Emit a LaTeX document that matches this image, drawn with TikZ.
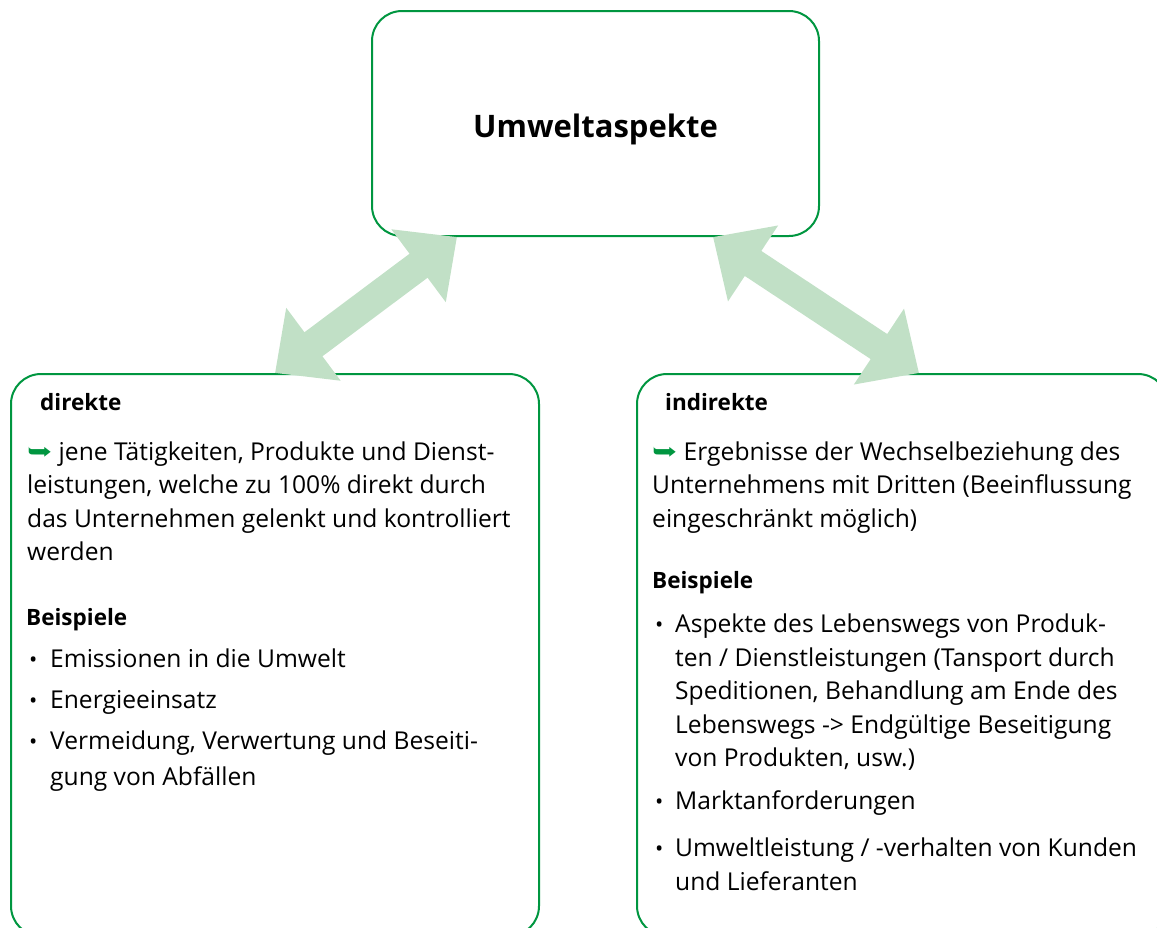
\documentclass[tikz,border=0pt]{standalone}
\usepackage{fontspec}
\setmainfont{Open Sans}
\newfontfamily\symfont{DejaVu Sans}
\usetikzlibrary{arrows.meta,calc}
\definecolor{frame}{RGB}{0,150,64}
\definecolor{arrowfill}{RGB}{193,224,198}
\newcommand{\hookmark}{{\symfont\color{frame}\fontsize{20}{20}\selectfont
  \raisebox{0.5pt}{\scalebox{1.5}[1.15]{➥}}}}
\newcommand{\itemdot}{\hspace{3pt}{\fontsize{22}{22}\selectfont •}}
\newcommand{\headfont}{\fontsize{22.5}{33.5}\selectfont\bfseries}

\begin{document}
\begin{tikzpicture}[x=1pt,y=-1pt,
  box/.style={draw=frame, line width=2pt, rounded corners=30pt, fill=white,
    inner sep=0pt, anchor=north west},
  txt/.style={inner sep=0pt, anchor=base west,
    font=\fontsize{24.6}{33.5}\selectfont},
  head/.style={txt, font=\headfont},
  link/.style={draw=arrowfill, line width=30pt,
    {Triangle[length=48pt,width=88pt]}-{Triangle[length=48pt,width=88pt]}}]
\useasboundingbox (0,0) rectangle (1157,927);

% frames
\node[box, minimum width=447pt, minimum height=225pt] (top) at (371,10) {};
\node[box, minimum width=528pt, minimum height=562pt] (direct) at (10,373) {};
\node[box, minimum width=531pt, minimum height=562pt] (indirect) at (636,373) {};

% title
\node[inner sep=0pt, anchor=base, font=\fontsize{31}{31}\selectfont\bfseries] (title)
  at ($(top.center)+(0,13.5)$) {Umweltaspekte};

% left box text
\node[head] (dhead) at (40,410) {direkte};
\node[txt] (ddesc) at (27,460) {\begin{tabular}[t]{@{}l@{}}
\hookmark\ jene Tätigkeiten, Produkte und Dienst-\\
leistungen, welche zu 100\% direkt durch\\
das Unternehmen gelenkt und kontrolliert\\
werden
\end{tabular}};
\node[txt] (dex) at (26,625) {\begin{tabular}[t]{@{}p{24pt}@{}l@{}}
\multicolumn{2}{@{}l@{}}{\headfont Beispiele}\\[9pt]
\itemdot & Emissionen in die Umwelt\\[7.5pt]
\itemdot & Energieeinsatz\\[7.5pt]
\itemdot & Vermeidung, Verwertung und Beseiti-\\[2pt]
 & gung von Abfällen
\end{tabular}};

% right box text
\node[head] (ihead) at (665,410) {indirekte};
\node[txt] (idesc) at (652,460) {\begin{tabular}[t]{@{}l@{}}
\hookmark\ Ergebnisse der Wechselbeziehung des\\
Unternehmens mit Dritten (Beeinflussung\\
eingeschränkt möglich)
\end{tabular}};
\node[txt] (iex) at (652,588) {\begin{tabular}[t]{@{}p{23pt}@{}l@{}}
\multicolumn{2}{@{}l@{}}{\headfont Beispiele}\\[11pt]
\itemdot & Aspekte des Lebenswegs von Produk-\\
 & ten / Dienstleistungen (Tansport durch\\
 & Speditionen, Behandlung am Ende des\\
 & Lebenswegs -> Endgültige Beseitigung\\
 & von Produkten, usw.)\\[9pt]
\itemdot & Marktanforderungen\\[14pt]
\itemdot & Umweltleistung / -verhalten von Kunden\\
 & und Lieferanten
\end{tabular}};

% two-way links between the boxes
\coordinate (la) at ($(direct.north west)+(265,0)$);
\coordinate (lb) at ($(top.south west)+(86,0)$);
\coordinate (ra) at ($(top.south west)+(342,0)$);
\coordinate (rb) at ($(indirect.north west)+(283,0)$);
\draw[link] (la) -- (lb);
\draw[link] (ra) -- (rb);
\end{tikzpicture}
\end{document}
